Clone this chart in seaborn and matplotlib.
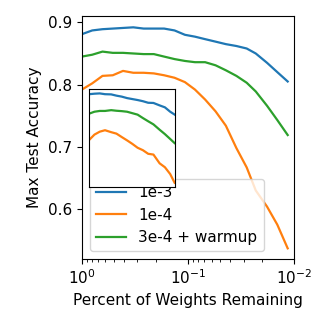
import matplotlib
matplotlib.use("Agg")
import matplotlib.pyplot as plt
import seaborn as sns
import pandas as pd

# fraction of weights remaining at each pruning round
weights_remaining = [1.0, 0.8, 0.64, 0.512, 0.41, 0.328, 0.262, 0.21, 0.168, 0.134,
                     0.107, 0.086, 0.069, 0.055, 0.044, 0.035, 0.028, 0.023, 0.018,
                     0.0144, 0.0115]

acc_1e3 = [0.881, 0.887, 0.889, 0.890, 0.891, 0.892, 0.890, 0.890, 0.890, 0.887,
           0.880, 0.877, 0.873, 0.869, 0.865, 0.862, 0.858, 0.850, 0.835, 0.820, 0.805]
acc_1e4 = [0.792, 0.802, 0.814, 0.815, 0.822, 0.819, 0.819, 0.818, 0.815, 0.811,
           0.804, 0.792, 0.776, 0.757, 0.734, 0.698, 0.667, 0.630, 0.604, 0.575, 0.537]
acc_warm = [0.845, 0.848, 0.853, 0.851, 0.851, 0.850, 0.849, 0.849, 0.845, 0.841,
            0.838, 0.836, 0.836, 0.831, 0.823, 0.814, 0.803, 0.789, 0.766, 0.743, 0.719]

labels = ["1e-3", "1e-4", "3e-4 + warmup"]
colors = ["#1f77b4", "#ff7f0e", "#2ca02c"]

# inset (zoomed view, unlabeled axes)
inset_x = [0.00, 0.06, 0.12, 0.18, 0.25, 0.31, 0.37, 0.43, 0.49, 0.55, 0.61, 0.67,
           0.73, 0.80, 0.86, 0.92, 0.97]
inset_1e3 = [0.950, 0.955, 0.958, 0.950, 0.948, 0.935, 0.925, 0.910, 0.900, 0.890,
             0.878, 0.862, 0.860, 0.835, 0.815, 0.770, 0.741]
inset_1e4 = [0.480, 0.535, 0.565, 0.580, 0.560, 0.545, 0.510, 0.476, 0.440, 0.400,
             0.375, 0.338, 0.330, 0.240, 0.200, 0.130, 0.041]
inset_warm = [0.750, 0.770, 0.778, 0.778, 0.786, 0.780, 0.776, 0.770, 0.755, 0.740,
              0.705, 0.672, 0.640, 0.585, 0.540, 0.490, 0.448]

plt.rcParams["font.size"] = 11

fig = plt.figure(figsize=(3.29, 3.29), dpi=100)
ax = fig.add_axes([0.249, 0.213, 0.645, 0.738])

for ys, lab, c in zip([acc_1e3, acc_1e4, acc_warm], labels, colors):
    df = pd.DataFrame({"x": weights_remaining, "y": ys})
    sns.lineplot(data=df, x="x", y="y", ax=ax, color=c, label=lab, linewidth=1.6)

ax.set_xscale("log")
ax.set_xlim(1.0, 0.01)
ax.set_ylim(0.52, 0.91)
ax.set_yticks([0.6, 0.7, 0.8, 0.9])
ax.set_xlabel("Percent of Weights Remaining")
ax.set_ylabel("Max Test Accuracy")
ax.legend(loc="lower left")

axin = fig.add_axes([0.271, 0.4325, 0.261, 0.296])
for ys, c in zip([inset_1e3, inset_1e4, inset_warm], colors):
    df = pd.DataFrame({"x": inset_x, "y": ys})
    sns.lineplot(data=df, x="x", y="y", ax=axin, color=c, linewidth=1.6)
axin.set_xlim(0.0, 0.975)
axin.set_ylim(0.0, 1.0)
axin.set_xticks([])
axin.set_yticks([])
axin.set_xlabel("")
axin.set_ylabel("")

fig.savefig("out.png", dpi=100)
